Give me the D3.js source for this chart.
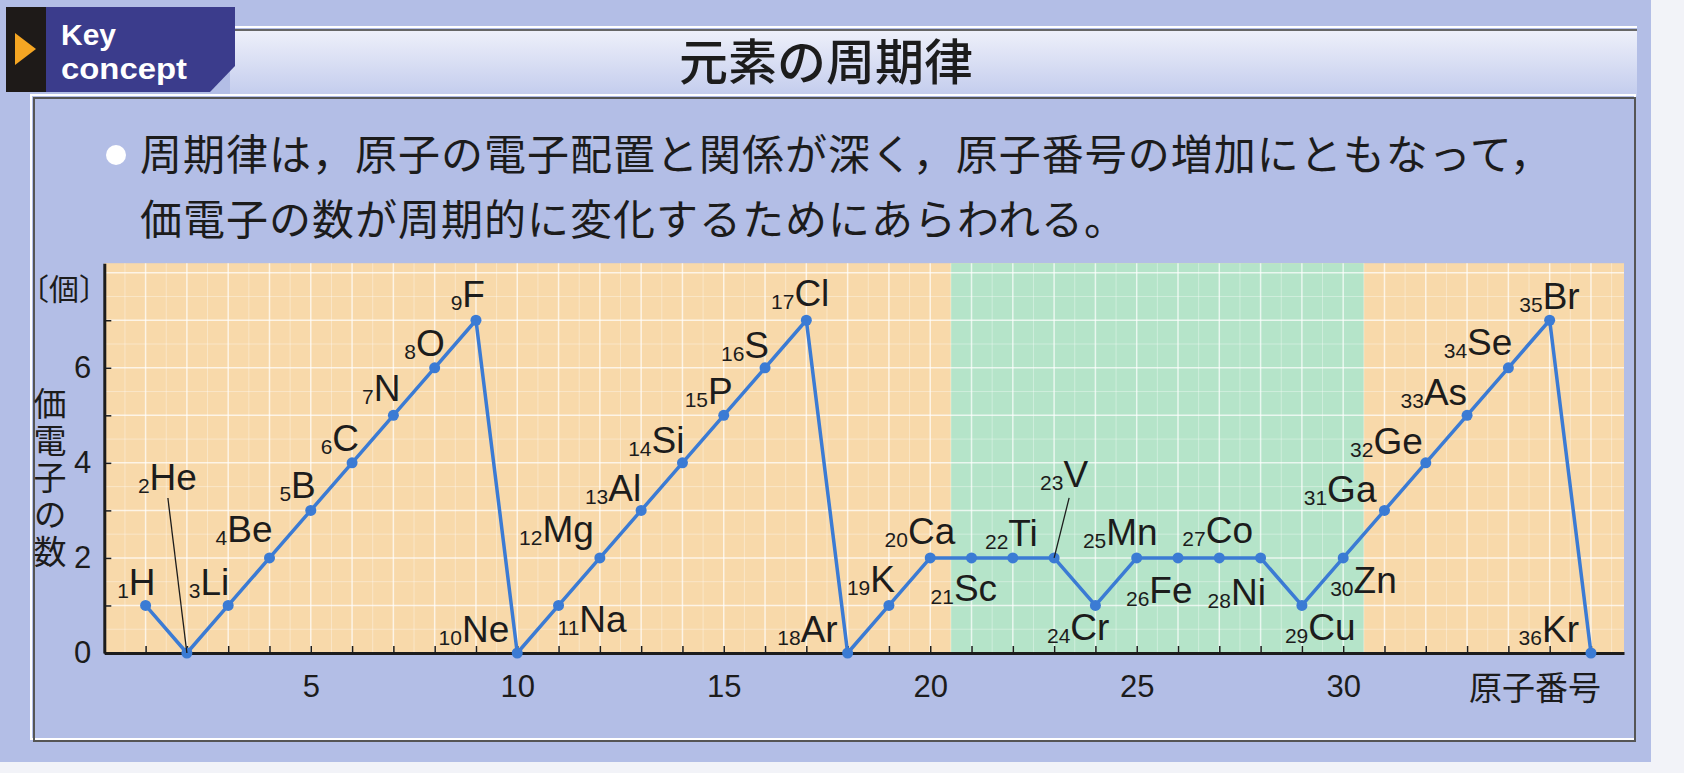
<!DOCTYPE html>
<html lang="ja">
<head>
<meta charset="utf-8">
<script src="https://cdn.jsdelivr.net/npm/d3@7"></script>
<style>
  body { margin: 0; background: #f2f3f8; }
  svg { display: block; }
</style>
</head>
<body>
<div id="chart"></div>
<script>
// ---- data ----
const atomicNumbers = [1, 2, 3, 4, 5, 6, 7, 8, 9, 10, 11, 12, 13, 14, 15, 16, 17, 18,
  19, 20, 21, 22, 23, 24, 25, 26, 27, 28, 29, 30, 31, 32, 33, 34, 35, 36];
const symbols = ["H", "He", "Li", "Be", "B", "C", "N", "O", "F", "Ne", "Na", "Mg", "Al", "Si",
  "P", "S", "Cl", "Ar", "K", "Ca", "Sc", "Ti", "V", "Cr", "Mn", "Fe", "Co", "Ni", "Cu", "Zn",
  "Ga", "Ge", "As", "Se", "Br", "Kr"];
const valenceElectrons = [1, 0, 1, 2, 3, 4, 5, 6, 7, 0, 1, 2, 3, 4, 5, 6, 7, 0,
  1, 2, 2, 2, 2, 1, 2, 2, 2, 2, 1, 2, 3, 4, 5, 6, 7, 0];
const xTickLabels = [5, 10, 15, 20, 25, 30];
const yTickLabels = [0, 2, 4, 6];
const transitionBand = [20.5, 30.5];

const titleText = "元素の周期律";
const bulletLines = [
  "周期律は，原子の電子配置と関係が深く，原子番号の増加にともなって，",
  "価電子の数が周期的に変化するためにあらわれる。"
];
const yAxisTitle = "価電子の数";

// label placement: anchor, dx, dy (baseline) relative to the point
const labelPlace = {
  H: ["end", 10, -10], He: ["start", -49, -163], Li: ["end", 1, -10], Be: ["end", 3, -16],
  B: ["end", 5, -12], C: ["end", 7, -12], N: ["end", 7, -14], O: ["end", 10, -12],
  F: ["end", 9, -13], Ne: ["end", -8, -11], Na: ["start", -1, 27], Mg: ["end", -6, -16],
  Al: ["end", 0, -9], Si: ["end", 2, -10], P: ["end", 9, -11], S: ["end", 4, -10],
  Cl: ["end", 23, -14], Ar: ["end", -10, -11], K: ["end", 6, -13], Ca: ["end", 25, -14],
  Sc: ["start", -41, 43], Ti: ["end", 25, -12], V: ["start", -14, -71], Cr: ["end", 14, 35],
  Mn: ["end", 21, -13], Fe: ["start", -52, 45], Co: ["start", -37, -15], Ni: ["start", -53, 47],
  Cu: ["start", -17, 35], Zn: ["start", -13, 35], Ga: ["end", -8, -8], Ge: ["end", -3, -9],
  As: ["end", 0, -10], Se: ["end", 4, -13], Br: ["end", 30, -11], Kr: ["end", -12, -11]
};
// leader lines: [from dx, from dy] relative to the point
const leaders = { He: [-19, -155], V: [15, -60] };

const W = 1684, H = 773;
const BG = "#b3bee6", PEACH = "#f8d9aa", GREEN = "#b5e4c9", LINE = "#3b7bd4", INK = "#1c1c1c";
const jp = "'Noto Sans CJK JP', sans-serif";
const latin = "'Liberation Sans', Arial, sans-serif";

const svg = d3.select("#chart").append("svg").attr("width", W).attr("height", H);

// page background + blue card
svg.append("rect").attr("width", W).attr("height", H).attr("fill", "#f2f3f8");
svg.append("rect").attr("x", 0).attr("y", 0).attr("width", 1651).attr("height", 762).attr("fill", BG);

// title band
const grad = svg.append("defs").append("linearGradient").attr("id", "band")
  .attr("x1", 0).attr("y1", 0).attr("x2", 0).attr("y2", 1);
grad.append("stop").attr("offset", 0).attr("stop-color", "#eef0fa");
grad.append("stop").attr("offset", 1).attr("stop-color", "#c3cced");
svg.append("rect").attr("x", 230).attr("y", 30).attr("width", 1407).attr("height", 66).attr("fill", "url(#band)");
svg.append("line").attr("x1", 230).attr("x2", 1637).attr("y1", 27).attr("y2", 27).attr("stroke", "#fff").attr("stroke-width", 2);
svg.append("line").attr("x1", 230).attr("x2", 1637).attr("y1", 30).attr("y2", 30).attr("stroke", "#666").attr("stroke-width", 2);
svg.append("text").attr("x", 826).attr("y", 80).attr("text-anchor", "middle")
  .attr("font-family", jp).attr("font-size", 49).attr("font-weight", 500).attr("fill", INK)
  .text(titleText);

// main panel frame (embossed double line)
svg.append("rect").attr("x", 31).attr("y", 95).attr("width", 1604).attr("height", 644)
  .attr("fill", "none").attr("stroke", "#fff").attr("stroke-width", 2);
svg.append("rect").attr("x", 34).attr("y", 98).attr("width", 1601).attr("height", 643)
  .attr("fill", "none").attr("stroke", "#555").attr("stroke-width", 2);

// Key concept tab
svg.append("rect").attr("x", 6).attr("y", 7).attr("width", 40).attr("height", 85).attr("fill", "#1e1a18");
svg.append("path").attr("d", "M46,7 H235 V66 L210,92 H46 Z").attr("fill", "#3b3c8c");
svg.append("path").attr("d", "M15,33 L36,49 L15,65 Z").attr("fill", "#f5a623");
svg.append("text").attr("x", 61).attr("y", 45).attr("font-family", latin).attr("font-weight", 700)
  .attr("font-size", 30).attr("fill", "#fff").attr("textLength", 55).attr("lengthAdjust", "spacingAndGlyphs")
  .text("Key");
svg.append("text").attr("x", 61).attr("y", 79).attr("font-family", latin).attr("font-weight", 700)
  .attr("font-size", 30).attr("fill", "#fff").attr("textLength", 126).attr("lengthAdjust", "spacingAndGlyphs")
  .text("concept");

// bullet text
svg.append("circle").attr("cx", 116).attr("cy", 155).attr("r", 10).attr("fill", "#fff");
svg.selectAll("text.bullet").data(bulletLines).enter().append("text")
  .attr("class", "bullet")
  .attr("x", 140).attr("y", (d, i) => 170 + i * 65)
  .attr("font-family", jp).attr("font-size", 42).attr("letter-spacing", 1).attr("fill", INK)
  .text(d => d);

// ---- chart ----
const x = d3.scaleLinear().domain([0, 36.8]).range([104.3, 1624]);
const y = d3.scaleLinear().domain([0, 8.2]).range([653, 263.2]);
const yTop = 8.2, xEnd = 36.8;

const plot = svg.append("g");
plot.append("rect").attr("x", x(0)).attr("y", y(yTop)).attr("width", x(xEnd) - x(0)).attr("height", y(0) - y(yTop))
  .attr("fill", PEACH);
plot.append("rect").attr("x", x(transitionBand[0])).attr("y", y(yTop))
  .attr("width", x(transitionBand[1]) - x(transitionBand[0])).attr("height", y(0) - y(yTop))
  .attr("fill", GREEN);

// grid: minor every half unit, major every unit
const grid = plot.append("g").attr("stroke", "#fff");
grid.selectAll("line.vx").data(d3.range(0.5, xEnd, 0.5)).enter().append("line")
  .attr("x1", d => x(d)).attr("x2", d => x(d)).attr("y1", y(0)).attr("y2", y(yTop))
  .attr("stroke-width", d => d % 1 === 0 ? 1.5 : 1).attr("stroke-opacity", d => d % 1 === 0 ? 0.7 : 0.35);
grid.selectAll("line.hy").data(d3.range(0.5, yTop, 0.5)).enter().append("line")
  .attr("x1", x(0)).attr("x2", x(xEnd)).attr("y1", d => y(d)).attr("y2", d => y(d))
  .attr("stroke-width", d => d % 1 === 0 ? 1.5 : 1).attr("stroke-opacity", d => d % 1 === 0 ? 0.7 : 0.35);

// axes
const xAxis = d3.axisBottom(x).tickValues(atomicNumbers).tickSizeInner(-7).tickSizeOuter(0)
  .tickPadding(22).tickFormat(d => xTickLabels.includes(d) ? d : "");
const yAxis = d3.axisLeft(y).tickValues(d3.range(0, 8)).tickSizeInner(-7).tickSizeOuter(0)
  .tickPadding(13).tickFormat(d => yTickLabels.includes(d) ? d : "");

const gx = plot.append("g").attr("transform", `translate(0,${y(0)})`).call(xAxis);
const gy = plot.append("g").attr("transform", `translate(${x(0)},0)`).call(yAxis);
[gx, gy].forEach(g => {
  g.select(".domain").attr("stroke", INK).attr("stroke-width", 3);
  g.selectAll(".tick line").attr("stroke", INK).attr("stroke-width", 1.5);
  g.selectAll(".tick text").attr("font-family", latin).attr("font-size", 31).attr("fill", INK);
});

// axis titles
svg.append("text").attr("x", 1469).attr("y", 700).attr("font-family", jp).attr("font-size", 33)
  .attr("fill", INK).text("原子番号");
svg.append("text").attr("x", 64).attr("y", 300).attr("text-anchor", "middle").attr("font-family", jp)
  .attr("font-size", 30).attr("fill", INK).text("〔個〕");
// vertical title set top-to-bottom as one run
svg.append("text").attr("class", "ytitle").attr("x", 50).attr("y", 387)
  .style("writing-mode", "vertical-rl").attr("letter-spacing", 4)
  .attr("font-family", jp).attr("font-size", 33).attr("fill", INK)
  .text(yAxisTitle);

// series
const points = atomicNumbers.map((n, i) => ({ n: n, sym: symbols[i], v: valenceElectrons[i] }));

plot.append("path").datum(points)
  .attr("fill", "none").attr("stroke", LINE).attr("stroke-width", 3.5).attr("stroke-linejoin", "round")
  .attr("d", d3.line().x(d => x(d.n)).y(d => y(d.v)));

plot.selectAll("circle.pt").data(points).enter().append("circle")
  .attr("class", "pt").attr("cx", d => x(d.n)).attr("cy", d => y(d.v)).attr("r", 5.5).attr("fill", LINE);

// leader lines
plot.selectAll("line.leader").data(points.filter(d => leaders[d.sym])).enter().append("line")
  .attr("class", "leader")
  .attr("x1", d => x(d.n) + leaders[d.sym][0]).attr("y1", d => y(d.v) + leaders[d.sym][1])
  .attr("x2", d => x(d.n)).attr("y2", d => y(d.v))
  .attr("stroke", INK).attr("stroke-width", 1.3);

// element labels: small atomic number + symbol
const labels = plot.selectAll("text.el").data(points).enter().append("text")
  .attr("class", "el")
  .attr("x", d => x(d.n) + labelPlace[d.sym][1])
  .attr("y", d => y(d.v) + labelPlace[d.sym][2])
  .attr("text-anchor", d => labelPlace[d.sym][0])
  .attr("font-family", latin).attr("fill", INK);
labels.append("tspan").attr("font-size", 21).attr("dy", 3).text(d => d.n);
labels.append("tspan").attr("font-size", 37).attr("dy", -3).text(d => d.sym);
</script>
</body>
</html>
